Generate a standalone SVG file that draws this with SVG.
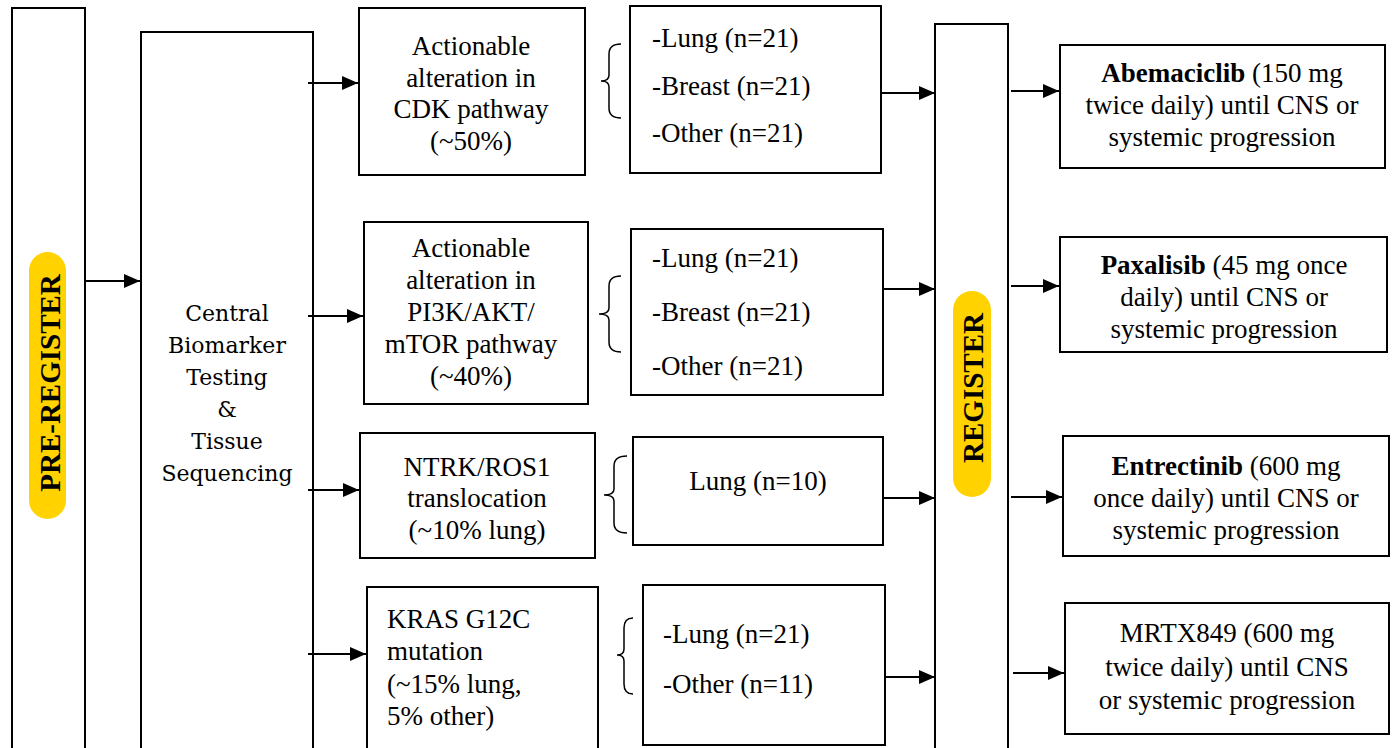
<svg xmlns="http://www.w3.org/2000/svg" width="1393" height="748" viewBox="0 0 1393 748">
<defs>
<marker id="ah" markerUnits="userSpaceOnUse" markerWidth="17" markerHeight="15" refX="16" refY="7" orient="auto">
<path d="M0,0 L16,7 L0,14 z" fill="#000"/>
</marker>
<style>
.box{fill:#fff;stroke:#000;stroke-width:2}
.pill{fill:#FFD200;stroke:none}
.t{font-family:"Liberation Serif","Times New Roman",serif;font-size:27px;fill:#000}
.c{text-anchor:middle}
.cs{font-family:"DejaVu Serif",serif;font-size:22px;fill:#000;text-anchor:middle}
.v{font-family:"Liberation Serif","Times New Roman",serif;font-size:29px;font-weight:bold;fill:#000;text-anchor:middle}
.b{font-weight:bold}
.ln{stroke:#000;stroke-width:2;fill:none}
.ar{stroke:#000;stroke-width:2;fill:none;marker-end:url(#ah)}
.br{stroke:#000;stroke-width:1.5;fill:none}
</style>
</defs>
<rect width="1393" height="748" fill="#fff"/>

<g id="pre-register">
<rect class="box" x="12" y="8" width="73" height="760"/>
<rect class="pill" x="29" y="252" width="37" height="267" rx="18.5"/>
<text class="v" transform="translate(60,383) rotate(-90)">PRE-REGISTER</text>
</g>

<g id="central">
<rect class="box" x="141" y="32" width="172" height="740"/>
<text class="cs" x="227" y="321">Central</text>
<text class="cs" x="227" y="353">Biomarker</text>
<text class="cs" x="227" y="385">Testing</text>
<text class="cs" x="227" y="417">&amp;</text>
<text class="cs" x="227" y="449">Tissue</text>
<text class="cs" x="227" y="481">Sequencing</text>
</g>

<g id="cdk">
<rect class="box" x="359" y="8" width="226" height="167"/>
<text class="t c" x="471" y="55">Actionable</text>
<text class="t c" x="471" y="87">alteration in</text>
<text class="t c" x="471" y="118">CDK pathway</text>
<text class="t c" x="471" y="150">(~50%)</text>
</g>

<g id="pi3k">
<rect class="box" x="364" y="222" width="224" height="182"/>
<text class="t c" x="471" y="257">Actionable</text>
<text class="t c" x="471" y="289">alteration in</text>
<text class="t c" x="471" y="321">PI3K/AKT/</text>
<text class="t c" x="471" y="353">mTOR pathway</text>
<text class="t c" x="471" y="385">(~40%)</text>
</g>

<g id="ntrk">
<rect class="box" x="360" y="433" width="235" height="125"/>
<text class="t c" x="477" y="476">NTRK/ROS1</text>
<text class="t c" x="477" y="507">translocation</text>
<text class="t c" x="477" y="539">(~10% lung)</text>
</g>

<g id="kras">
<rect class="box" x="367" y="587" width="231" height="180"/>
<text class="t" x="387" y="628">KRAS G12C</text>
<text class="t" x="387" y="660">mutation</text>
<text class="t" x="387" y="693">(~15% lung,</text>
<text class="t" x="387" y="725">5% other)</text>
</g>

<g id="cohort-cdk">
<rect class="box" x="630" y="6" width="251" height="167"/>
<text class="t" x="652" y="47">-Lung (n=21)</text>
<text class="t" x="652" y="95">-Breast (n=21)</text>
<text class="t" x="652" y="142">-Other (n=21)</text>
</g>

<g id="cohort-pi3k">
<rect class="box" x="631" y="229" width="252" height="166"/>
<text class="t" x="652" y="267">-Lung (n=21)</text>
<text class="t" x="652" y="321">-Breast (n=21)</text>
<text class="t" x="652" y="375">-Other (n=21)</text>
</g>

<g id="cohort-ntrk">
<rect class="box" x="633" y="437" width="250" height="108"/>
<text class="t c" x="758" y="490">Lung (n=10)</text>
</g>

<g id="cohort-kras">
<rect class="box" x="643" y="585" width="242" height="160"/>
<text class="t" x="663" y="643">-Lung (n=21)</text>
<text class="t" x="663" y="693">-Other (n=11)</text>
</g>

<g id="register">
<rect class="box" x="935" y="24" width="73" height="760"/>
<rect class="pill" x="953" y="291" width="38" height="206" rx="19"/>
<text class="v" transform="translate(983,388) rotate(-90)">REGISTER</text>
</g>

<g id="abemaciclib">
<rect class="box" x="1060" y="45" width="325" height="123"/>
<text class="t c" x="1222" y="82"><tspan class="b">Abemaciclib</tspan> (150 mg</text>
<text class="t c" x="1222" y="114">twice daily) until CNS or</text>
<text class="t c" x="1222" y="146">systemic progression</text>
</g>

<g id="paxalisib">
<rect class="box" x="1060" y="237" width="327" height="115"/>
<text class="t c" x="1224" y="274"><tspan class="b">Paxalisib</tspan> (45 mg once</text>
<text class="t c" x="1224" y="306">daily) until CNS or</text>
<text class="t c" x="1224" y="338">systemic progression</text>
</g>

<g id="entrectinib">
<rect class="box" x="1063" y="436" width="326" height="120"/>
<text class="t c" x="1226" y="475"><tspan class="b">Entrectinib</tspan> (600 mg</text>
<text class="t c" x="1226" y="507">once daily) until CNS or</text>
<text class="t c" x="1226" y="539">systemic progression</text>
</g>

<g id="mrtx849">
<rect class="box" x="1065" y="603" width="324" height="131"/>
<text class="t c" x="1227" y="642">MRTX849 (600 mg</text>
<text class="t c" x="1227" y="676">twice daily) until CNS</text>
<text class="t c" x="1227" y="709">or systemic progression</text>
</g>

<g id="connectors">
<line class="ar" x1="86" y1="281" x2="140" y2="281"/>
<line class="ar" x1="308" y1="83" x2="358" y2="83"/>
<line class="ar" x1="308" y1="316" x2="363" y2="316"/>
<line class="ar" x1="308" y1="490" x2="359" y2="490"/>
<line class="ar" x1="308" y1="654" x2="366" y2="654"/>
<path class="br" d="M621,44 Q609,44 609,54 L609,75 Q609,81 601,81 Q609,81 609,87 L609,108 Q609,118 621,118"/>
<path class="br" d="M621,276 Q609,276 609,286 L609,308 Q609,314 599,314 Q609,314 609,320 L609,342 Q609,352 621,352"/>
<path class="br" d="M627,456 Q614,456 614,466 L614,489 Q614,495 604,495 Q614,495 614,501 L614,523 Q614,533 627,533"/>
<path class="br" d="M633,618 Q624,618 624,628 L624,649 Q624,655 617,655 Q624,655 624,661 L624,684 Q624,694 633,694"/>
<line class="ar" x1="881" y1="93" x2="935" y2="93"/>
<line class="ar" x1="883" y1="289" x2="935" y2="289"/>
<line class="ar" x1="883" y1="498" x2="935" y2="498"/>
<line class="ar" x1="885" y1="677" x2="935" y2="677"/>
<line class="ar" x1="1011" y1="91" x2="1059" y2="91"/>
<line class="ar" x1="1011" y1="286" x2="1059" y2="286"/>
<line class="ar" x1="1011" y1="497" x2="1062" y2="497"/>
<line class="ar" x1="1013" y1="673" x2="1064" y2="673"/>
</g>
</svg>
